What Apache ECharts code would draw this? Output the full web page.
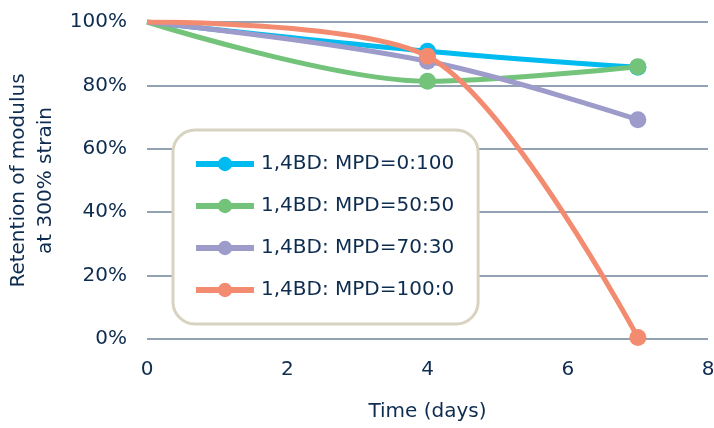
<!DOCTYPE html>
<html>
<head>
<meta charset="utf-8">
<script src="https://cdn.jsdelivr.net/npm/echarts@6/dist/echarts.min.js"></script>
<style>
html,body{margin:0;padding:0;background:#fff;}
#chart{width:714px;height:428px;}
</style>
</head>
<body>
<div id="chart"></div>
<script>
var days = [0, 4, 7];
var seriesNames = ['1,4BD: MPD=0:100', '1,4BD: MPD=50:50', '1,4BD: MPD=70:30', '1,4BD: MPD=100:0'];
var mpd0_100 = [100, 90.8, 85.7];
var mpd50_50 = [100, 81.3, 85.9];
var mpd70_30 = [100, 87.6, 69.2];
var mpd100_0 = [100, 89.2, 0.5];
var yTicks = [0, 20, 40, 60, 80, 100];
var xTicks = [0, 2, 4, 6, 8];

var colors = ['#00bbef', '#73c37b', '#9d9bca', '#f38b71'];
var smoothness = [0.38, 0.32, 0.38, 0.3];
var values = [mpd0_100, mpd50_50, mpd70_30, mpd100_0];
var textColor = '#0e2c4f';
var fontFam = '"DejaVu Sans", sans-serif';

function buildData(vals) {
  return days.map(function (d, i) {
    var item = { value: [d, vals[i]] };
    if (i === 0) item.symbol = 'none';
    return item;
  });
}

var chart = echarts.init(document.getElementById('chart'));
chart.setOption({
  animation: false,
  backgroundColor: '#ffffff',
  grid: { left: 147, right: 6, top: 22, bottom: 89, containLabel: false, outerBoundsMode: 'none' },
  legend: {
    orient: 'vertical',
    left: 173,
    top: 130,
    padding: [24, 24, 24, 20],
    itemGap: 22,
    itemWidth: 58,
    itemHeight: 18,
    backgroundColor: '#ffffff',
    borderColor: '#d8d3c0',
    borderWidth: 3,
    borderRadius: 22,
    lineStyle: { width: 6 },
    textStyle: { color: textColor, fontSize: 20, fontFamily: fontFam, padding: [0, 0, 0, 2] },
    data: seriesNames
  },
  xAxis: {
    type: 'value',
    min: 0, max: 8, interval: 2,
    name: 'Time (days)',
    nameLocation: 'middle',
    nameGap: 63,
    nameTextStyle: { color: textColor, fontSize: 20, fontFamily: fontFam },
    axisLine: { show: false },
    axisTick: { show: false },
    splitLine: { show: false },
    axisLabel: {
      color: textColor, fontSize: 20, fontFamily: fontFam, margin: 21,
      customValues: xTicks,
      formatter: function (v) { return String(v); }
    }
  },
  yAxis: {
    type: 'value',
    min: 0, max: 100, interval: 20,
    name: 'Retention of modulus\nat 300% strain',
    nameLocation: 'middle',
    nameGap: 88,
    nameTextStyle: { color: textColor, fontSize: 20, fontFamily: fontFam, lineHeight: 27 },
    axisLine: { show: false },
    axisTick: { show: false },
    splitLine: { show: true, lineStyle: { color: '#6f8399', width: 1.5 } },
    axisLabel: {
      color: textColor, fontSize: 20, fontFamily: fontFam, margin: 20,
      formatter: function (v) { return yTicks.indexOf(v) >= 0 ? v + '%' : ''; }
    }
  },
  series: seriesNames.map(function (n, i) {
    return {
      name: n,
      type: 'line',
      smooth: smoothness[i],
      data: buildData(values[i]),
      symbol: 'circle',
      symbolSize: 17,
      itemStyle: { color: colors[i] },
      lineStyle: { color: colors[i], width: 5 },
      z: 2 + i
    };
  })
});
</script>
</body>
</html>
